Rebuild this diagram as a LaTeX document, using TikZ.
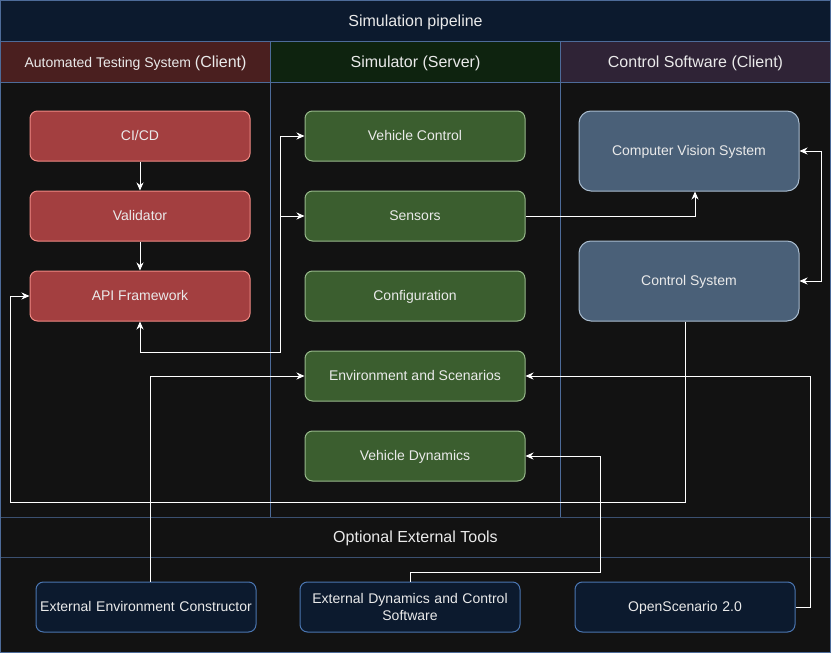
\documentclass[tikz,border=0pt]{standalone}
\usepackage{fontspec}
\setmainfont{Liberation Sans}
\usetikzlibrary{arrows.meta}
\definecolor{bgc}{HTML}{121212}
\definecolor{navy}{HTML}{0C1A2E}
\definecolor{lane}{HTML}{4D6B99}
\definecolor{hdra}{HTML}{4A1F1F}
\definecolor{hdrb}{HTML}{0E230F}
\definecolor{hdrc}{HTML}{2F2336}
\definecolor{redf}{HTML}{A33F40}
\definecolor{redd}{HTML}{F08A84}
\definecolor{grnf}{HTML}{3B5E2F}
\definecolor{grnd}{HTML}{97B88A}
\definecolor{slaf}{HTML}{4A6078}
\definecolor{slad}{HTML}{A9BCCF}
\definecolor{extd}{HTML}{4A75B0}
\definecolor{txt}{HTML}{EAEAEA}
\tikzset{
  base/.style={draw, line width=1pt, text=txt, align=center, inner sep=2pt,
    font=\fontsize{14}{16.5}\selectfont},
  oneline/.style={text height=10pt, text depth=0.5pt},
  redbox/.style={base, oneline, fill=redf, draw=redd, minimum width=220pt, minimum height=50pt, rounded corners=7.5pt},
  grnbox/.style={base, oneline, fill=grnf, draw=grnd, minimum width=220pt, minimum height=50pt, rounded corners=7.5pt},
  slabox/.style={base, oneline, fill=slaf, draw=slad, minimum width=220pt, minimum height=80pt, rounded corners=12pt},
  extbox/.style={base, fill=navy, draw=extd, minimum width=220pt, minimum height=50pt, rounded corners=7.5pt, text width=216pt, inner xsep=1pt},
  hdr/.style={text=txt, font=\fontsize{16}{19}\selectfont, text height=11.5pt, text depth=0pt},
  conn/.style={draw=white, line width=1pt},
  arr/.style={conn, -{Stealth[length=8pt,width=7pt,inset=2.5pt]}},
  arrboth/.style={conn, {Stealth[length=8pt,width=7pt,inset=2.5pt]}-{Stealth[length=8pt,width=7pt,inset=2.5pt]}},
}
\begin{document}
\begin{tikzpicture}[x=1pt,y=-1pt]
\useasboundingbox (0,0) rectangle (831,653);
% backgrounds
\fill[bgc] (0,0) rectangle (831,653);
\fill[navy] (0,0) rectangle (831,41);
\fill[hdra] (0,41) rectangle (271,82);
\fill[hdrb] (271,41) rectangle (560,82);
\fill[hdrc] (560,41) rectangle (831,82);
\draw[lane, line width=0.8pt] (0,41) -- (831,41);
\draw[lane, line width=0.8pt] (0,82) -- (831,82);
\draw[lane, line width=1pt] (270.5,41) -- (270.5,517);
\draw[lane, line width=1pt] (560.5,41) -- (560.5,517);
\draw[lane!70!bgc, line width=0.8pt] (0,517) -- (831,517);
\draw[lane!70!bgc, line width=0.8pt] (0,557) -- (831,557);
\draw[lane, line width=1pt] (0.5,0.5) rectangle (830.5,652.5);
% titles
\node[hdr] (title) at (415.5,21) {Simulation pipeline};
\node[hdr] (h1) at (135.5,61.5) {\fontsize{14}{16}\selectfont Automated Testing System \fontsize{16}{19}\selectfont(Client)};
\node[hdr] (h2) at (415.5,61.5) {Simulator (Server)};
\node[hdr] (h3) at (695.5,61.5) {Control Software (Client)};
\node[hdr] (opt) at (415.5,537) {Optional External Tools};
% red
\node[redbox] (cicd) at (140,136) {CI/CD};
\node[redbox] (val) at (140,216) {Validator};
\node[redbox] (api) at (140,296) {API Framework};
% green
\node[grnbox] (vc) at (415,136) {Vehicle Control};
\node[grnbox] (sens) at (415,216) {Sensors};
\node[grnbox] (conf) at (415,296) {Configuration};
\node[grnbox] (env) at (415,376) {Environment and Scenarios};
\node[grnbox] (vd) at (415,456) {Vehicle Dynamics};
% slate
\node[slabox] (cvs) at (689,151) {Computer Vision System};
\node[slabox] (cs) at (689,281) {Control System};
% external
\node[extbox, oneline] (eec) at (146,607) {External Environment Constructor};
\node[extbox] (edc) at (410,607) {External Dynamics and Control\\Software};
\node[extbox, oneline] (osc) at (685,607) {OpenScenario 2.0};
% connectors
\coordinate (j1) at (280,352);
\coordinate (fb) at (10,502);
\coordinate (j3) at (600,572);
\draw[arr] (cicd) -- (val);
\draw[arr] (val) -- (api);
\draw[arrboth] (api.south) |- (j1) |- (vc.west);
\draw[arr] (j1) |- (sens.west);
\draw[arr] (sens.east) -| ([xshift=6pt]cvs.south);
\draw[arrboth] (cvs.east) -- ++(22,0) |- (cs.east);
\draw[arr] ([xshift=-4pt]cs.south) |- (fb) |- (api.west);
\draw[arr] ([xshift=4pt]eec.north) |- (env.west);
\draw[arr] (edc.north) |- (j3) |- (vd.east);
\draw[arr] (osc.east) -- ++(15,0) |- (env.east);
\end{tikzpicture}
\end{document}
